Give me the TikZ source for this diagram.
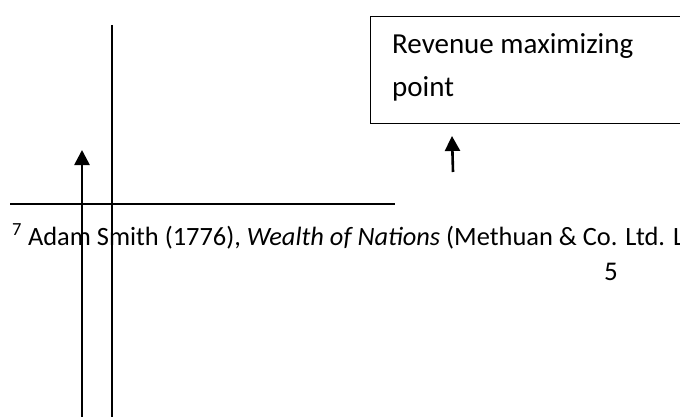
\documentclass[tikz,border=0pt]{standalone}
\usepackage{fontspec}
\setmainfont{Carlito}
\usetikzlibrary{arrows.meta}
\begin{document}
\begin{tikzpicture}
	[x=1pt,y=-1pt,
	txt/.style={inner sep=0pt,font=\fontsize{26.4}{43}\selectfont},
	boxtxt/.style={inner sep=0pt,font=\fontsize{29}{43}\selectfont},
	box/.style={draw,line width=1.4pt,minimum width=340pt,minimum height=107pt,anchor=north west},
	arr/.style={line width=2.6pt,-{Triangle[length=15pt,width=15pt]}},
	rule/.style={line width=1.5pt}]
    \clip (0,0) rectangle (680,417);
    \node[box] (rmpbox) at (370,16) {};
    \node[boxtxt,anchor=base west,align=left] (rmp) at (392,97) {Revenue maximizing\\point};
    \coordinate (tail1) at (82,417);
    \coordinate (tip1) at (82,150);
    \coordinate (tail2) at (453,172);
    \coordinate (tip2) at (452,136);
    \coordinate (vtop) at (112,25);
    \coordinate (vbot) at (112,417);
    \coordinate (hl) at (10,204);
    \coordinate (hr) at (395,204);
    \node[txt,anchor=base west] (fn) at (12,245) {\textsuperscript{7} Adam Smith (1776), \textit{Wealth of Nations} (Methuan \& Co. Ltd. L};
    \node[txt,font=\fontsize{27}{30}\selectfont] (pg) at (611,272) {5};
    \draw [rule] (hl) -- (hr);
    \draw [line width=1.3pt] (vtop) -- (vbot);
    \draw [arr] (tail1) -- (tip1);
    \draw [arr] (tail2) -- (tip2);
\end{tikzpicture}
\end{document}
